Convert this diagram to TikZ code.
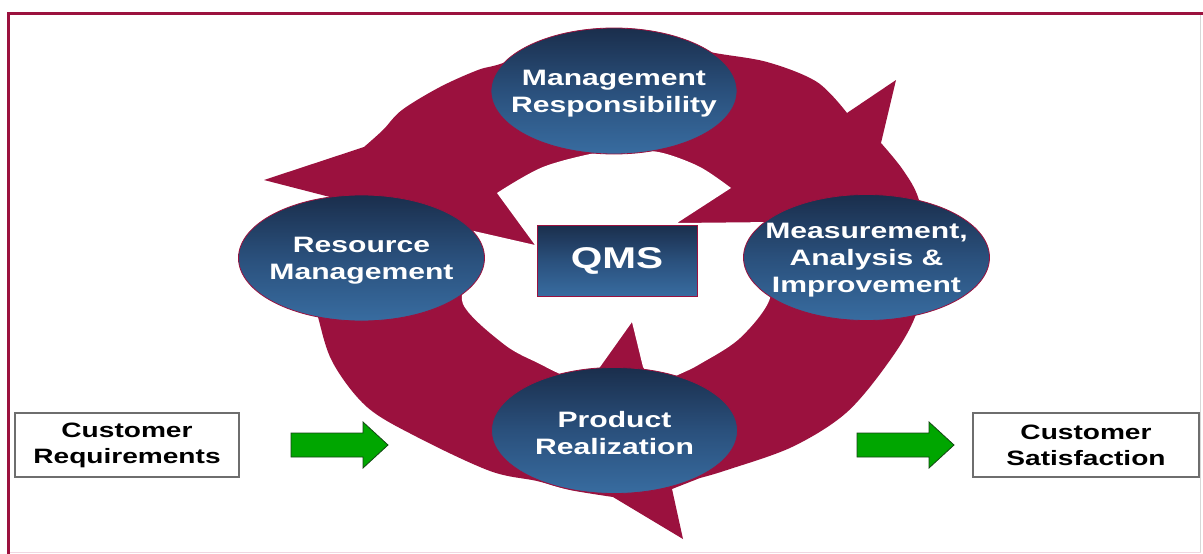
\documentclass[tikz,border=0pt]{standalone}
\usepackage{fontspec}
\newfontfamily\lsfont{Liberation Sans}[FakeStretch=1.35]
\usetikzlibrary{shapes.geometric}
\definecolor{qmsmaroon}{RGB}{155,17,62}
\definecolor{navytop}{RGB}{26,46,76}
\definecolor{navymid}{RGB}{42,80,124}
\definecolor{navybot}{RGB}{56,108,160}
\definecolor{arrowgreen}{RGB}{0,166,0}
\definecolor{arrowedge}{RGB}{20,70,20}
\definecolor{boxgray}{RGB}{110,110,110}
\definecolor{faintpink}{RGB}{240,215,225}
\definecolor{faintgray}{RGB}{215,215,215}
\begin{document}
\begin{tikzpicture}[x=1pt,y=-1pt,
  procell/.style={ellipse, draw=qmsmaroon, line width=0.8pt, top color=navytop, bottom color=navybot, middle color=navymid, minimum width=246pt, minimum height=126pt, inner sep=0pt},
  proctext/.style={text=white, align=center, font=\lsfont\bfseries\fontsize{22.3}{27}\selectfont, inner sep=0pt},
  qmsbox/.style={rectangle, draw=qmsmaroon, line width=0.8pt, top color=navytop, bottom color=navybot, middle color=navymid, minimum width=160pt, minimum height=71pt, inner sep=0pt, text=white, font=\lsfont\bfseries\fontsize{30}{36}\selectfont},
  custbox/.style={rectangle, draw=boxgray, line width=1.4pt, fill=white, minimum width=224pt, minimum height=64pt, align=center, font=\lsfont\bfseries\fontsize{20.8}{26}\selectfont, inner sep=0pt},
  garrow/.style={fill=arrowgreen, draw=arrowedge, line width=0.8pt, line join=miter},
]
\useasboundingbox (0,0) rectangle (1203,554);
\fill[white] (0,0) rectangle (1203,554);
% frame
\draw[faintgray, line width=1pt] (1200.5,13) -- (1200.5,552.5);
\draw[faintpink, line width=1pt] (8.8,552.5) -- (1200.5,552.5);
\draw[qmsmaroon, line width=3pt] (8.8,554) -- (8.8,13) -- (1203,13);

% maroon circular band with arrowheads
\fill[qmsmaroon] (264,180) -- (364,147)
  -- plot[smooth, tension=0.55] coordinates {(364,147) (383,130) (402,110) (440,87) (478,70) (503,63) (560,40) (614,34) (670,40) (710,52) (767,62) (817,82) (847,113)}
  -- (896,80) -- (881,143)
  -- plot[smooth, tension=0.55] coordinates {(881,143) (903,170) (919,200) (930,257) (915,317) (888,363) (846,413) (792,447) (727,470) (700,478)}
  -- (672,489) -- (683,539) -- (613,497)
  -- plot[smooth, tension=0.55] coordinates {(613,497) (570,490) (537,481) (490,471) (417,437) (367,407) (333,363) (318,317) (305,260) (330,197)}
  -- cycle;
% inner hole
\fill[white] (497,193)
  -- plot[smooth, tension=0.55] coordinates {(497,193) (543,167) (600,152) (632,150) (663,153) (700,167) (731,188)}
  -- (677,223) -- (775,222)
  -- plot[smooth, tension=0.55] coordinates {(775,222) (762,260) (770,298) (740,338) (700,364) (680,374) (655,385)}
  -- (643,367) -- (632,322) -- (600,367) -- (585,385)
  -- plot[smooth, tension=0.55] coordinates {(585,385) (560,374) (540,364) (505,345) (463,304) (470,265) (465,229)}
  -- (535,245) -- cycle;

% process ellipses
\node[procell] (mgmt) at (614,91) {};
\node[procell] (res) at (361.5,258) {};
\node[procell] (meas) at (866.5,257.5) {};
\node[procell] (prod) at (614.5,430.5) {};
\node[proctext] (mgmtT) at ([yshift=-3pt]mgmt.center) {Management\\Responsibility};
\node[proctext] (resT) at ([yshift=-3pt]res.center) {Resource\\Management};
\node[proctext] (measT) at ([yshift=-3pt]meas.center) {Measurement,\\Analysis \&\\Improvement};
\node[proctext] (prodT) at ([yshift=-3pt]prod.center) {Product\\Realization};

% QMS
\node[qmsbox] (qms) at (617,260.5) {QMS};

% customer boxes
\node[custbox] (creq) at (127,445) {Customer\\Requirements};
\node[custbox, minimum width=226pt] (csat) at (1086,445) {Customer\\Satisfaction};

% green block arrows
\coordinate (ga) at (291,445);
\coordinate (gb) at (857,445);
\draw[garrow] (ga) ++(0,-12) -- ++(72,0) -- ++(0,-11) -- ++(25,23) -- ++(-25,23) -- ++(0,-11) -- ++(-72,0) -- cycle;
\draw[garrow] (gb) ++(0,-12) -- ++(72,0) -- ++(0,-11) -- ++(25,23) -- ++(-25,23) -- ++(0,-11) -- ++(-72,0) -- cycle;
\end{tikzpicture}
\end{document}
